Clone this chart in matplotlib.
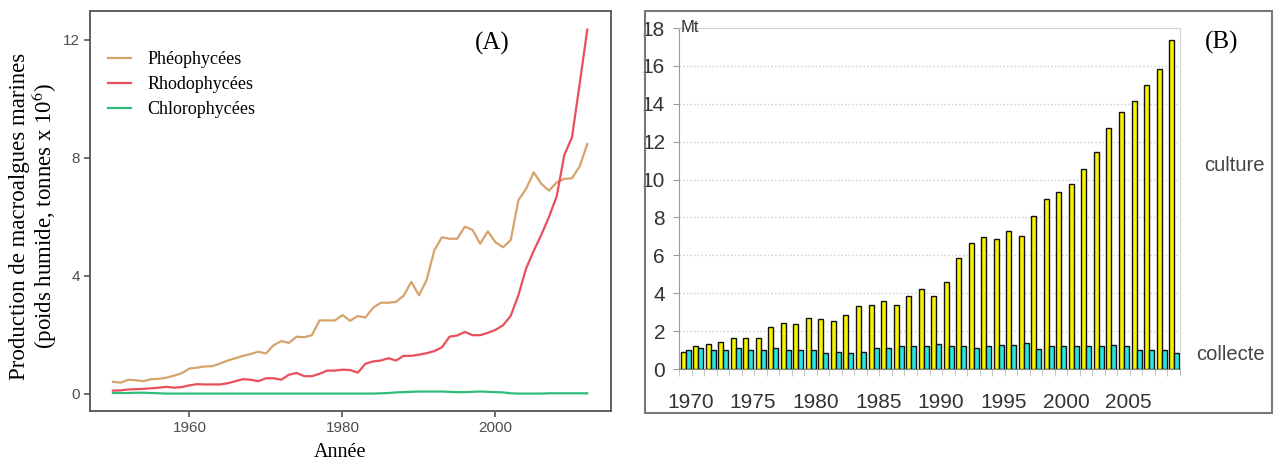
import matplotlib
matplotlib.use("Agg")
import matplotlib.pyplot as plt
from matplotlib.patches import Rectangle

plt.rcParams['mathtext.fontset'] = 'stix'

# ---- Panel A data: production (millions t, wet weight) ----
years_a = list(range(1950, 2013))
pheo = [0.41, 0.38, 0.48, 0.46, 0.43, 0.50, 0.51, 0.55, 0.62, 0.70,
        0.86, 0.89, 0.93, 0.94, 1.03, 1.13, 1.21, 1.29, 1.35, 1.43,
        1.37, 1.65, 1.79, 1.73, 1.94, 1.92, 1.99, 2.49, 2.49, 2.49,
        2.67, 2.48, 2.64, 2.59, 2.92, 3.09, 3.09, 3.12, 3.33, 3.80,
        3.34, 3.86, 4.86, 5.31, 5.26, 5.26, 5.67, 5.56, 5.09, 5.51,
        5.14, 4.97, 5.22, 6.57, 6.95, 7.51, 7.12, 6.89, 7.17, 7.29,
        7.31, 7.71, 8.47]
rhodo = [0.11, 0.12, 0.15, 0.16, 0.17, 0.19, 0.21, 0.24, 0.21, 0.23,
         0.29, 0.33, 0.32, 0.32, 0.32, 0.36, 0.43, 0.50, 0.48, 0.43,
         0.53, 0.53, 0.48, 0.65, 0.71, 0.60, 0.60, 0.68, 0.79, 0.79,
         0.82, 0.81, 0.72, 1.02, 1.10, 1.13, 1.21, 1.13, 1.29, 1.29,
         1.33, 1.38, 1.45, 1.58, 1.94, 1.98, 2.10, 1.99, 1.99, 2.07,
         2.17, 2.33, 2.65, 3.35, 4.25, 4.85, 5.40, 6.00, 6.70, 8.10,
         8.70, 10.50, 12.35]
chloro = [0.03, 0.03, 0.03, 0.04, 0.04, 0.03, 0.02, 0.01, 0.01, 0.01,
          0.01, 0.01, 0.01, 0.01, 0.01, 0.01, 0.01, 0.01, 0.01, 0.01,
          0.01, 0.01, 0.01, 0.01, 0.01, 0.01, 0.01, 0.01, 0.01, 0.01,
          0.01, 0.01, 0.01, 0.01, 0.01, 0.02, 0.03, 0.05, 0.06, 0.07,
          0.08, 0.08, 0.08, 0.08, 0.07, 0.06, 0.06, 0.07, 0.08, 0.07,
          0.06, 0.05, 0.02, 0.01, 0.01, 0.01, 0.01, 0.02, 0.02, 0.02,
          0.02, 0.02, 0.02]
series_names = ["Phéophycées", "Rhodophycées", "Chlorophycées"]

# ---- Panel B data: Mt, culture vs collecte ----
years_b = list(range(1970, 2010))
culture = [0.90, 1.20, 1.30, 1.40, 1.65, 1.65, 1.65, 2.20, 2.45, 2.37,
           2.70, 2.65, 2.55, 2.85, 3.30, 3.40, 3.60, 3.40, 3.87, 4.20,
           3.87, 4.60, 5.85, 6.65, 6.95, 6.85, 7.30, 7.00, 8.05, 8.95,
           9.35, 9.75, 10.55, 11.45, 12.70, 13.55, 14.15, 15.00, 15.85, 17.35]
collecte = [1.00, 1.10, 1.00, 1.00, 1.10, 1.00, 1.00, 1.10, 1.00, 1.00,
            1.00, 0.82, 0.90, 0.82, 0.90, 1.10, 1.10, 1.20, 1.20, 1.20,
            1.30, 1.20, 1.20, 1.10, 1.20, 1.28, 1.28, 1.37, 1.07, 1.20,
            1.20, 1.20, 1.20, 1.20, 1.28, 1.20, 1.00, 1.00, 1.00, 0.85]
label_years_b = [1970, 1975, 1980, 1985, 1990, 1995, 2000, 2005]

W, H = 1274, 461
fig = plt.figure(figsize=(W / 100, H / 100), dpi=100)


def box(x0, y0, x1, y1):
    # pixel box (top-left origin) -> figure fraction
    return [x0 / W, 1 - y1 / H, (x1 - x0) / W, (y1 - y0) / H]


# ================= Panel A =================
ax1 = fig.add_axes(box(90, 11, 611, 411))
colors_a = ['#d6a36c', '#e9505a', '#2fbd7b']
for vals, name, c in zip([pheo, rhodo, chloro], series_names, colors_a):
    ax1.plot(years_a, vals, color=c, lw=1.6, label=name)

ax1.set_xlim(1947, 2015.1)
ax1.set_ylim(-0.58, 12.98)
ax1.set_xticks([1960, 1980, 2000])
ax1.set_yticks([0, 4, 8, 12])
for s in ax1.spines.values():
    s.set_color('#555555')
    s.set_linewidth(1.3)
ax1.tick_params(colors='#555555', labelcolor='#4d4d4d', length=4, width=1.2,
                labelsize=11, pad=3)
for t in ax1.get_xticklabels() + ax1.get_yticklabels():
    t.set_family('Liberation Sans')

leg = ax1.legend(loc='upper left', bbox_to_anchor=(0.02, 0.918), frameon=False,
                 handlelength=1.3, handletextpad=0.9, labelspacing=0.45,
                 borderaxespad=0, prop={'family': 'Liberation Serif', 'size': 13})

ax1.text(0.772, 0.92, "(A)", transform=ax1.transAxes, family='Liberation Serif',
         fontsize=18, ha='center', va='center')
fig.text(340 / W, 1 - 452 / H, "Année", family='Liberation Serif', fontsize=14.5,
         ha='center', va='center')
fig.text(34 / W, 1 - 216 / H,
         "Production de macroalgues marines\n(poids humide, tonnes x 10$^{6}$)",
         family='Liberation Serif', fontsize=16.5, rotation=90, ha='center',
         va='center', linespacing=0.95)

# ================= Panel B =================
fig.patches.append(Rectangle((645 / W, 1 - 413 / H), (1272 - 645) / W, (413 - 11) / H,
                             transform=fig.transFigure, fill=False,
                             edgecolor='#777777', lw=1.5))

ax2 = fig.add_axes(box(679, 28, 1180, 369))
idx = list(range(len(years_b)))
ax2.bar([i - 0.17 for i in idx], culture, width=0.4, color='#f7f400',
        edgecolor='#111111', lw=1.0, zorder=3)
ax2.bar([i + 0.23 for i in idx], collecte, width=0.4, color='#26e6e6',
        edgecolor='#111111', lw=1.0, zorder=3)

ax2.set_xlim(-0.5, len(years_b) - 0.5)
ax2.set_ylim(0, 18)
ax2.set_yticks(range(0, 19, 2))
ax2.yaxis.grid(True, color='#cccccc', ls=':', lw=1.0, zorder=0)
ax2.set_xticks([years_b.index(y) + 0.4 for y in label_years_b])
ax2.set_xticklabels([str(y) for y in label_years_b])
ax2.set_xticks([i - 0.5 for i in range(len(years_b) + 1)], minor=True)
ax2.tick_params(axis='x', which='major', length=0, pad=17)
ax2.tick_params(axis='x', which='minor', length=5, color='#bbbbbb', direction='out')
ax2.tick_params(axis='y', length=4, color='#999999', pad=6)
ax2.tick_params(labelsize=15, labelcolor='#333333')
for t in ax2.get_xticklabels() + ax2.get_yticklabels():
    t.set_family('Liberation Sans')
ax2.spines['left'].set_color('#999999')
ax2.spines['bottom'].set_color('#888888')
ax2.spines['top'].set_color('#d5d5d5')
ax2.spines['right'].set_color('#d5d5d5')

ax2.text(0.003, 1.0, "Mt", transform=ax2.transAxes, ha='left', va='center',
         fontsize=12, color='#333333', family='Liberation Sans')
fig.text(1222 / W, 1 - 42 / H, "(B)", family='Liberation Serif', fontsize=18,
         ha='center', va='center')
fig.text(1234 / W, 1 - 165 / H, "culture", family='Liberation Sans', fontsize=14.5,
         color='#444444', ha='center', va='center')
fig.text(1230 / W, 1 - 355 / H, "collecte", family='Liberation Sans', fontsize=14.5,
         color='#444444', ha='center', va='center')

fig.savefig("out.png", dpi=100)
